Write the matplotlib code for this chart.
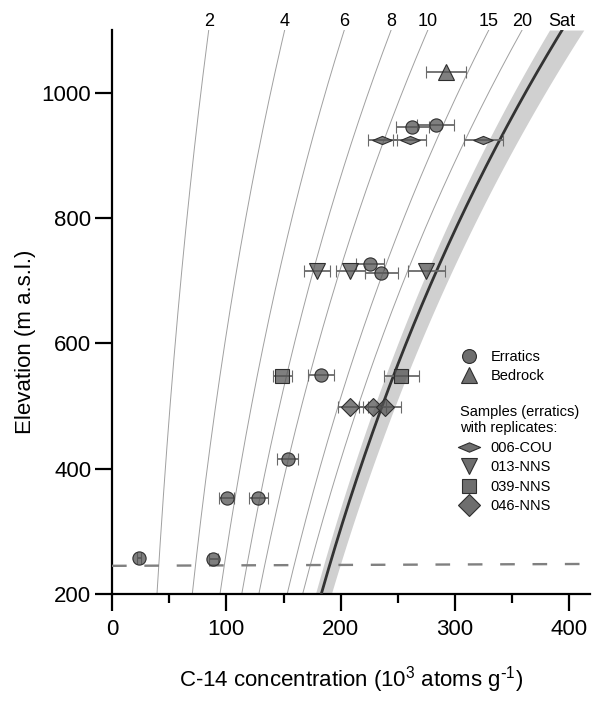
import numpy as np
import matplotlib
matplotlib.use("Agg")
import matplotlib.pyplot as plt
from matplotlib.path import Path
from matplotlib.lines import Line2D

plt.rcParams['font.family'] = ['Liberation Sans', 'DejaVu Sans']
plt.rcParams['mathtext.default'] = 'regular'

# isochron model (saturation concentration vs elevation)
sat_at_200 = 183.0          # 10^3 atoms/g at 200 m
scale_length = 1175.0       # m
sat_band = (0.972, 1.048)
iso_times = [2, 4, 6, 8, 10, 15, 20]   # ka
iso_labels = ['2', '4', '6', '8', '10', '15', '20']
c14_halflife = 5.73         # ka

# erratics
err_x = [23.5, 88.5, 100.5, 128, 153.5, 183, 225.5, 235.5, 262.5, 283]
err_y = [257, 256, 353, 353, 416, 550, 727, 713, 946, 949]
err_e = [2, 4, 6.5, 8, 9.5, 11.5, 12.5, 14.5, 14.5, 16]

# bedrock
bed_x = [292.5]
bed_y = [1033]
bed_e = [17.5]

# replicates
cou006_x = [236.5, 260.5, 324.5]
cou006_y = [924, 924, 924]
cou006_e = [12.5, 14.5, 17]

nns013_x = [179, 208.5, 275]
nns013_y = [716, 716, 716]
nns013_e = [11.5, 12.5, 16.5]

nns039_x = [149, 253]
nns039_y = [548, 548]
nns039_e = [8.5, 15.5]

nns046_x = [208.5, 228, 238.5]
nns046_y = [499, 499, 499]
nns046_e = [11, 12, 14.5]

lake_x = [0, 418]
lake_y = [245, 248]

flat_diamond = Path([(-1, 0), (0, 0.42), (1, 0), (0, -0.42), (-1, 0)],
                    [Path.MOVETO, Path.LINETO, Path.LINETO, Path.LINETO, Path.CLOSEPOLY])

fig = plt.figure(figsize=(5.98, 7.05), dpi=100)
ax = fig.add_axes([0.1873, 0.1574, 0.7993, 0.8])

z = np.linspace(200, 1100, 200)
sat = sat_at_200 * np.exp((z - 200) / scale_length)
lam = np.log(2) / c14_halflife

ax.fill_betweenx(z, sat * sat_band[0], sat * sat_band[1], color='#d0d0d0', lw=0, zorder=1)
for t, lab in zip(iso_times, iso_labels):
    iso = sat * (1 - np.exp(-lam * t))
    ax.plot(iso, z, color='#a0a0a0', lw=0.7, zorder=2)
    ax.annotate(lab, (iso[-1], 1100), xytext=(0, 3), textcoords='offset points',
                ha='center', va='baseline', fontsize=13, annotation_clip=False)
ax.plot(sat, z, color='#333333', lw=2.0, zorder=3)
ax.annotate('Sat', (sat[-1], 1100), xytext=(0, 3), textcoords='offset points',
            ha='center', va='baseline', fontsize=13, annotation_clip=False)

ax.plot(lake_x, lake_y, color='#808080', lw=1.7, dashes=(6.2, 7.5), zorder=4)

fc = (0.33, 0.33, 0.33, 0.75)
ec = '#2e2e2e'
ebkw = dict(ls='none', ecolor='#6a6a6a', elinewidth=1.3, capsize=4.5, capthick=1.3,
            mfc=fc, mec=ec, mew=0.8, zorder=5)
ax.errorbar(err_x, err_y, xerr=err_e, marker='o', ms=9.5, **ebkw)
ax.errorbar(bed_x, bed_y, xerr=bed_e, marker='^', ms=11, **ebkw)
ax.errorbar(cou006_x, cou006_y, xerr=cou006_e, marker=flat_diamond, ms=14, **ebkw)
ax.errorbar(nns013_x, nns013_y, xerr=nns013_e, marker='v', ms=11, **ebkw)
ax.errorbar(nns039_x, nns039_y, xerr=nns039_e, marker='s', ms=10, **ebkw)
ax.errorbar(nns046_x, nns046_y, xerr=nns046_e, marker='D', ms=9, **ebkw)

ax.set_xlim(0, 418)
ax.set_ylim(200, 1100)
ax.set_xticks([0, 100, 200, 300, 400])
ax.set_xticks([50, 150, 250, 350], minor=True)
ax.set_yticks([200, 400, 600, 800, 1000])
for s in ['top', 'right']:
    ax.spines[s].set_visible(False)
for s in ['left', 'bottom']:
    ax.spines[s].set_linewidth(1.6)
ax.tick_params(which='major', length=12, width=1.6, labelsize=16, direction='out')
ax.tick_params(axis='x', which='major', pad=6)
ax.tick_params(axis='y', which='major', pad=3)
ax.tick_params(which='minor', length=6.5, width=1.6)

ax.set_xlabel(r'C-14 concentration (10$^3$ atoms g$^{\text{-}1}$)', fontsize=16)
ax.set_ylabel('Elevation (m a.s.l.)', fontsize=16)
ax.xaxis.set_label_coords(0.5, -0.125)
ax.yaxis.set_label_coords(-0.16, 0.447)

lkw = dict(ls='none', mfc='#6e6e6e', mec=ec, mew=0.8)
h1 = [Line2D([], [], marker='o', ms=10, **lkw), Line2D([], [], marker='^', ms=12, **lkw)]
leg1 = ax.legend(h1, ['Erratics', 'Bedrock'], loc='upper left', bbox_to_anchor=(0.729, 0.433),
                 frameon=False, fontsize=10.5, handlelength=1.2, handletextpad=0.85,
                 labelspacing=0.35, borderpad=0, borderaxespad=0)
ax.add_artist(leg1)
h2 = [Line2D([], [], marker=flat_diamond, ms=16, **lkw), Line2D([], [], marker='v', ms=12, **lkw),
      Line2D([], [], marker='s', ms=10, **lkw), Line2D([], [], marker='D', ms=11, **lkw)]
leg2 = ax.legend(h2, ['006-COU', '013-NNS', '039-NNS', '046-NNS'], loc='upper left',
                 bbox_to_anchor=(0.729, 0.335), frameon=False, fontsize=10.5, handlelength=1.2,
                 handletextpad=0.85, labelspacing=0.38, borderpad=0, borderaxespad=0,
                 title='Samples (erratics)\nwith replicates:', title_fontsize=10.5,
                 alignment='left')

fig.savefig('out.png', dpi=100)
